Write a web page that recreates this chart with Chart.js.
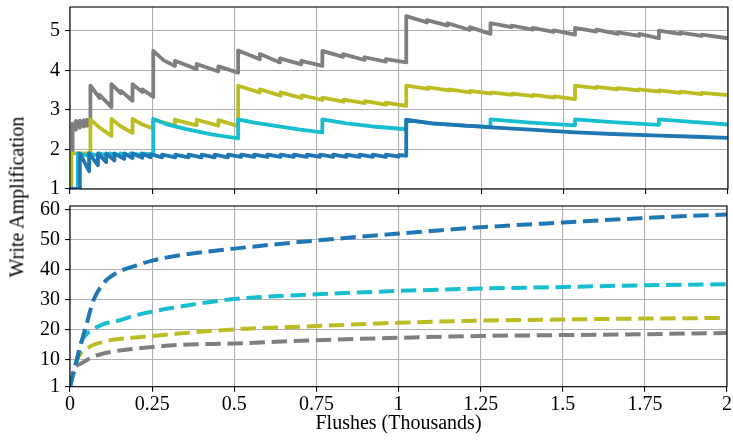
<!DOCTYPE html>
<html>
<head>
<meta charset="utf-8">
<script src="https://cdn.jsdelivr.net/npm/chart.js@4.4.0/dist/chart.umd.min.js"></script>
<style>
    body { margin: 0; background: #fff; }
    #wrap { position: relative; width: 733px; height: 442px; overflow: hidden; }
    #topChart { position: absolute; left: 0; top: -10px; }
    #bottomChart { position: absolute; left: 0; top: 189px; }
    #ylabel {
        position: absolute; left: 17px; top: 197px;
        transform: translate(-50%, -50%) rotate(-90deg);
        font: 20px "Liberation Serif", serif; color: #000; white-space: nowrap;
    }
</style>
</head>
<body>
<div id="wrap">
    <canvas id="topChart" width="733" height="216"></canvas>
    <canvas id="bottomChart" width="733" height="253"></canvas>
    <div id="ylabel">Write Amplification</div>
</div>
<script>
// x in thousands of flushes, y = write amplification
const xTicks = [0, 0.25, 0.5, 0.75, 1, 1.25, 1.5, 1.75, 2];
const xTickLabels = ['0', '0.25', '0.5', '0.75', '1', '1.25', '1.5', '1.75', '2'];
const topTicks = [1, 2, 3, 4, 5];
const bottomTicks = [1, 10, 20, 30, 40, 50, 60];

const colors = { blue: '#1f77b4', cyan: '#17becf', olive: '#bcbd22', gray: '#7f7f7f' };

// top panel: per-flush write amplification (sawtooth)
const blueTop = [
    [0, 1], [0.03, 1], [0.03, 1.9], [0.058, 1.45], [0.058, 1.9], [0.085, 1.6], [0.085, 1.9],
    [0.11, 1.68], [0.11, 1.9], [0.135, 1.72], [0.135, 1.9], [0.165, 1.76], [0.165, 1.9],
    [0.19, 1.78], [0.19, 1.9], [0.22, 1.79], [0.22, 1.89], [0.245, 1.8], [0.245, 1.88],
    [0.28, 1.8], [0.28, 1.87], [0.32, 1.8], [0.32, 1.87], [0.36, 1.8], [0.36, 1.87],
    [0.4, 1.8], [0.4, 1.87], [0.44, 1.8], [0.44, 1.87], [0.48, 1.8], [0.48, 1.87],
    [0.52, 1.81], [0.52, 1.87], [0.56, 1.81], [0.56, 1.87], [0.6, 1.81], [0.6, 1.87],
    [0.64, 1.81], [0.64, 1.87], [0.68, 1.81], [0.68, 1.87], [0.72, 1.81], [0.72, 1.87],
    [0.76, 1.81], [0.76, 1.87], [0.8, 1.81], [0.8, 1.87], [0.84, 1.81], [0.84, 1.87],
    [0.88, 1.81], [0.88, 1.87], [0.92, 1.81], [0.92, 1.87], [0.96, 1.81], [0.96, 1.87],
    [1.0, 1.82], [1.0, 1.86], [1.022, 1.84], [1.022, 2.75], [1.1, 2.66], [1.2, 2.6],
    [1.28, 2.56], [1.4, 2.5], [1.536, 2.43], [1.65, 2.39], [1.792, 2.35], [1.9, 2.32], [2.0, 2.29]
];
const cyanTop = [
    [0, 1], [0.024, 1], [0.024, 1.9], [0.056, 1.84], [0.056, 1.9], [0.088, 1.84], [0.088, 1.9],
    [0.12, 1.84], [0.12, 1.9], [0.152, 1.85], [0.152, 1.9], [0.184, 1.85], [0.184, 1.9],
    [0.216, 1.86], [0.216, 1.9], [0.253, 1.87], [0.253, 2.77], [0.3, 2.62], [0.35, 2.52],
    [0.43, 2.38], [0.511, 2.28], [0.511, 2.76], [0.56, 2.68], [0.62, 2.6], [0.7, 2.5],
    [0.767, 2.43], [0.767, 2.76], [0.84, 2.66], [0.92, 2.58], [1.022, 2.51], [1.022, 2.75],
    [1.1, 2.66], [1.2, 2.6], [1.278, 2.57], [1.278, 2.76], [1.4, 2.68], [1.535, 2.61],
    [1.535, 2.76], [1.65, 2.69], [1.79, 2.62], [1.79, 2.76], [1.9, 2.69], [2.0, 2.63]
];
const oliveTop = [
    [0, 1], [0.003, 1], [0.003, 1.9], [0.062, 1.9], [0.062, 2.76], [0.09, 2.55], [0.126, 2.34],
    [0.126, 2.77], [0.155, 2.58], [0.19, 2.42], [0.19, 2.77], [0.22, 2.63], [0.253, 2.53],
    [0.253, 2.75], [0.319, 2.6], [0.319, 2.75], [0.385, 2.61], [0.385, 2.75], [0.451, 2.6],
    [0.451, 2.74], [0.511, 2.59], [0.511, 3.61], [0.577, 3.44], [0.577, 3.52], [0.64, 3.36],
    [0.64, 3.44], [0.704, 3.3], [0.704, 3.37], [0.767, 3.25], [0.767, 3.31], [0.832, 3.21],
    [0.832, 3.26], [0.896, 3.17], [0.896, 3.22], [0.96, 3.13], [0.96, 3.18], [1.022, 3.1],
    [1.022, 3.61], [1.088, 3.53], [1.088, 3.57], [1.152, 3.49], [1.152, 3.52], [1.216, 3.44],
    [1.216, 3.48], [1.28, 3.41], [1.28, 3.44], [1.344, 3.38], [1.344, 3.41], [1.408, 3.35],
    [1.408, 3.38], [1.472, 3.31], [1.472, 3.34], [1.535, 3.27], [1.535, 3.61], [1.6, 3.55],
    [1.6, 3.58], [1.664, 3.52], [1.664, 3.55], [1.728, 3.49], [1.728, 3.52], [1.792, 3.46],
    [1.792, 3.49], [1.856, 3.43], [1.856, 3.46], [1.92, 3.4], [1.92, 3.43], [2.0, 3.37]
];
const grayTop = [
    [0, 1], [0.004, 1], [0.004, 1.9], [0.008, 1.9], [0.008, 2.65], [0.018, 2.5], [0.018, 2.72],
    [0.03, 2.55], [0.03, 2.73], [0.042, 2.58], [0.042, 2.74], [0.052, 2.6], [0.052, 2.75],
    [0.062, 2.62], [0.062, 3.61], [0.09, 3.3], [0.09, 3.38], [0.126, 3.07], [0.126, 3.65],
    [0.155, 3.42], [0.155, 3.48], [0.19, 3.23], [0.19, 3.65], [0.22, 3.45], [0.22, 3.52],
    [0.253, 3.33], [0.253, 4.49], [0.285, 4.25], [0.319, 4.11], [0.319, 4.24], [0.385, 4.03],
    [0.385, 4.16], [0.451, 3.97], [0.451, 4.1], [0.511, 3.94], [0.511, 4.5], [0.577, 4.28],
    [0.577, 4.41], [0.638, 4.2], [0.638, 4.3], [0.703, 4.15], [0.703, 4.24], [0.767, 4.11],
    [0.767, 4.49], [0.83, 4.34], [0.83, 4.41], [0.895, 4.26], [0.895, 4.33], [0.96, 4.22],
    [0.96, 4.28], [1.022, 4.2], [1.022, 5.37], [1.085, 5.21], [1.085, 5.27], [1.148, 5.13],
    [1.148, 5.19], [1.215, 5.02], [1.215, 5.09], [1.278, 4.92], [1.278, 5.19], [1.342, 5.09],
    [1.342, 5.13], [1.406, 5.03], [1.406, 5.07], [1.47, 4.97], [1.47, 5.01], [1.535, 4.9],
    [1.535, 5.07], [1.6, 4.98], [1.6, 5.03], [1.665, 4.92], [1.665, 4.96], [1.73, 4.87],
    [1.73, 4.92], [1.79, 4.81], [1.79, 5.0], [1.855, 4.92], [1.855, 4.95], [1.92, 4.87],
    [1.92, 4.9], [2.0, 4.81]
];

// bottom panel: cumulative write amplification (dashed)
const bottomX = [0, 0.015, 0.02, 0.035, 0.05, 0.07, 0.1, 0.14, 0.2, 0.25, 0.33, 0.5, 0.75, 1.0, 1.25, 1.5, 1.75, 2.0];
const blueBottom = [1, 7.6, 9.6, 16, 21.6, 29.4, 35.2, 38.8, 41.3, 43.0, 44.7, 47.0, 49.7, 52.0, 54.1, 55.7, 57.2, 58.4];
const cyanBottom = [1, 7.6, 9.6, 16, 18.5, 20.1, 21.8, 22.8, 24.8, 26.0, 27.6, 30.2, 31.8, 32.9, 33.7, 34.2, 34.8, 35.1];
const oliveBottom = [1, 7.6, 9.6, 12.4, 13.6, 14.9, 15.9, 16.8, 17.4, 17.9, 18.7, 20.1, 21.2, 22.3, 23.0, 23.4, 23.7, 23.9];
const grayBottom = [1, 7.6, 8.0, 8.8, 9.8, 11.0, 12.0, 12.9, 13.7, 14.2, 14.9, 15.4, 16.5, 17.3, 17.9, 18.2, 18.5, 18.9];

const font = { family: '"Liberation Serif", serif', size: 20 };

// cadre noir autour de la zone de tracé
const frame = {
    id: 'frame',
    afterDatasetsDraw(chart) {
        const a = chart.chartArea;
        const ctx = chart.ctx;
        ctx.save();
        ctx.strokeStyle = '#000';
        ctx.lineWidth = 1.1;
        ctx.strokeRect(a.left, a.top, a.right - a.left, a.bottom - a.top);
        ctx.restore();
    }
};

const gridOpts = { color: '#b0b0b0', lineWidth: 1.1, tickColor: '#000', tickLength: 5, tickWidth: 1.1 };

function xScale(withLabels, height) {
    return {
        type: 'linear', min: 0, max: 2,
        afterBuildTicks: s => { s.ticks = xTicks.map(v => ({ value: v })); },
        afterFit: s => { s.height = height; },
        grid: gridOpts,
        border: { display: false },
        ticks: {
            autoSkip: false, maxRotation: 0, padding: 1, color: '#000', font: font,
            callback: (v, i) => withLabels ? xTickLabels[i] : ''
        },
        title: { display: withLabels, text: 'Flushes (Thousands)', color: '#000', font: font, padding: { top: 0, bottom: 6 } }
    };
}

function yScale(min, max, ticks) {
    return {
        type: 'linear', min: min, max: max,
        afterBuildTicks: s => { s.ticks = ticks.map(v => ({ value: v })); },
        afterFit: s => { s.width = 70; },
        grid: gridOpts,
        border: { display: false },
        ticks: { padding: 5, color: '#000', font: font, callback: v => String(v) }
    };
}

function toPts(pairs) {
    return pairs.map(p => ({ x: p[0], y: p[1] }));
}

function solid(pairs, color) {
    return {
        data: toPts(pairs), borderColor: color, borderWidth: 3.8,
        pointRadius: 0, tension: 0, borderJoinStyle: 'round', borderCapStyle: 'round'
    };
}

function dashed(values, color) {
    return {
        data: bottomX.map((x, i) => ({ x: x, y: values[i] })), borderColor: color, borderWidth: 4,
        borderDash: [15.4, 6.7], pointRadius: 0, cubicInterpolationMode: 'monotone'
    };
}

const common = {
    responsive: false, animation: false,
    plugins: { legend: { display: false }, tooltip: { enabled: false } }
};

new Chart(document.getElementById('topChart'), {
    type: 'line',
    data: {
        datasets: [
            solid(blueTop, colors.blue),
            solid(cyanTop, colors.cyan),
            solid(oliveTop, colors.olive),
            solid(grayTop, colors.gray)
        ]
    },
    options: Object.assign({}, common, {
        layout: { padding: { top: 12, right: 5, left: 0, bottom: 0 } },
        scales: { x: xScale(false, 12), y: yScale(1, 5.6, topTicks) }
    }),
    plugins: [frame]
});

new Chart(document.getElementById('bottomChart'), {
    type: 'line',
    data: {
        datasets: [
            dashed(blueBottom, colors.blue),
            dashed(cyanBottom, colors.cyan),
            dashed(oliveBottom, colors.olive),
            dashed(grayBottom, colors.gray)
        ]
    },
    options: Object.assign({}, common, {
        layout: { padding: { top: 12, right: 5, left: 0, bottom: 0 } },
        scales: { x: xScale(true, 55.3), y: yScale(1, 61.2, bottomTicks) }
    }),
    plugins: [frame]
});
</script>
</body>
</html>
